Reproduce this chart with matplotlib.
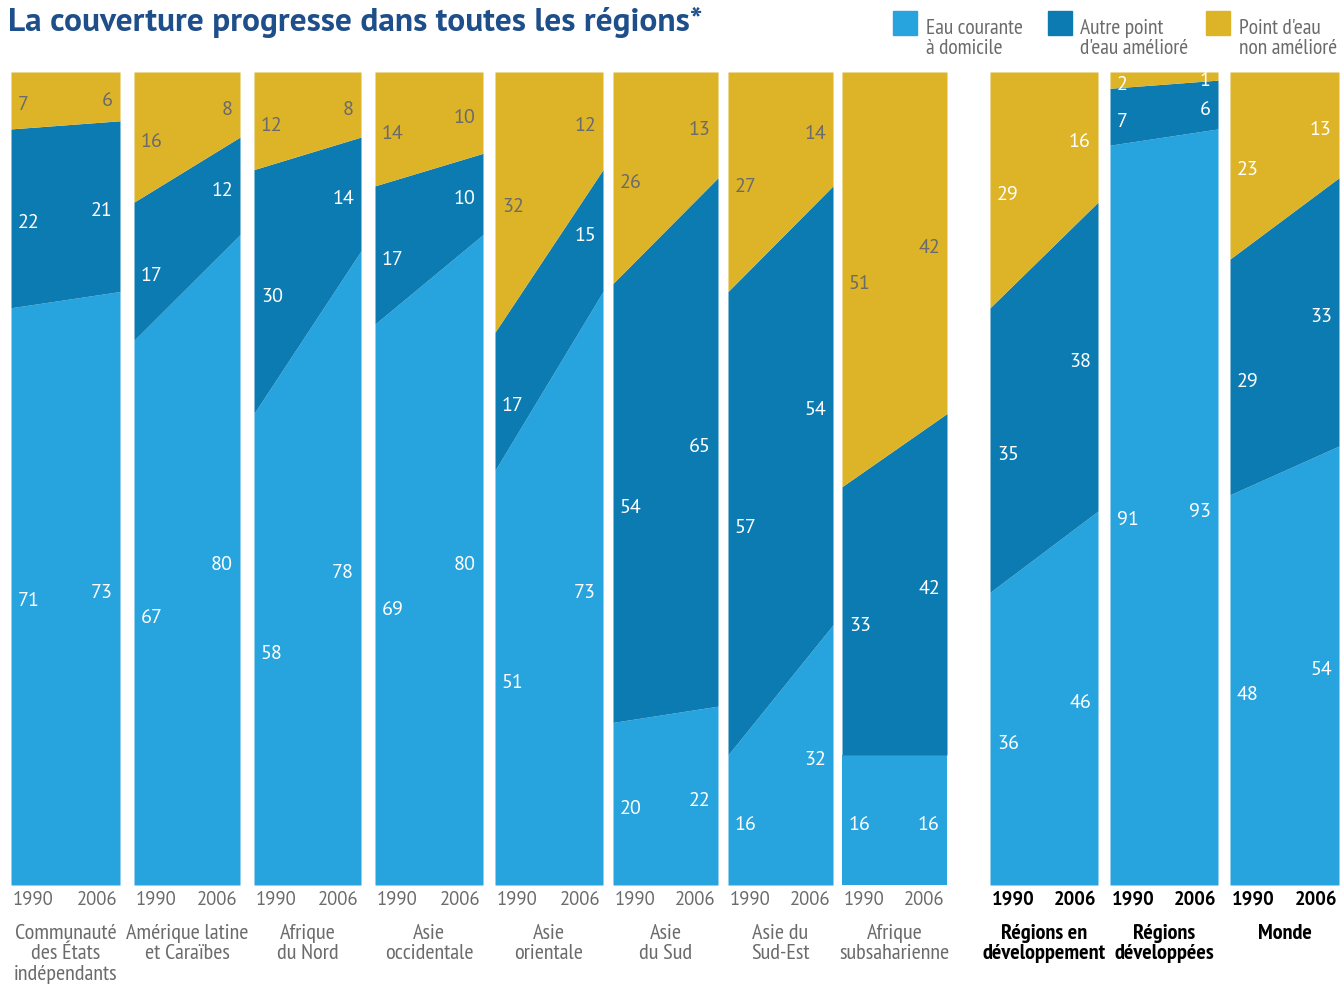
import matplotlib.pyplot as plt

# Donnees (%), 1990 et 2006 pour chaque region
regions = ["Communauté\ndes États\nindépendants", "Amérique latine\net Caraïbes",
           "Afrique\ndu Nord", "Asie\noccidentale", "Asie\norientale",
           "Asie\ndu Sud", "Asie du\nSud-Est", "Afrique\nsubsaharienne",
           "Régions en\ndéveloppement", "Régions\ndéveloppées", "Monde"]
courante_1990 = [71, 67, 58, 69, 51, 20, 16, 16, 36, 91, 48]
courante_2006 = [73, 80, 78, 80, 73, 22, 32, 16, 46, 93, 54]
autre_1990 = [22, 17, 30, 17, 17, 54, 57, 33, 35, 7, 29]
autre_2006 = [21, 12, 14, 10, 15, 65, 54, 42, 38, 6, 33]
nonamel_1990 = [7, 16, 12, 14, 32, 26, 27, 51, 29, 2, 23]
nonamel_2006 = [6, 8, 8, 10, 12, 13, 14, 42, 16, 1, 13]
annees = ["1990", "2006"]
legende = ["Eau courante\nà domicile", "Autre point\nd'eau amélioré", "Point d'eau\nnon amélioré"]

c_clair = "#27a3dd"
c_fonce = "#0b7bb2"
c_jaune = "#ddb327"
c_gris = "#6b6b6b"
c_titre = "#1f4f8a"

# polices (avec repli)
f_normal = ["PT Sans", "Liberation Sans", "DejaVu Sans"]
f_etroit = ["PT Sans Narrow", "Liberation Sans", "DejaVu Sans"]
plt.rcParams["font.family"] = f_normal

W, H = 1341, 987
fig = plt.figure(figsize=(W / 100, H / 100), dpi=100)

# positions des panneaux en pixels
gauches = [11, 134, 254, 375, 495, 613, 728, 842, 990, 1110, 1230]
droites = [120, 240, 361, 483, 603, 718, 833, 947, 1098, 1218, 1339]
haut, bas = 73, 886

for i in range(len(regions)):
    x0, x1 = gauches[i], droites[i]
    ax = fig.add_axes([x0 / W, 1 - bas / H, (x1 - x0) / W, (bas - haut) / H])
    a = [courante_1990[i], courante_2006[i]]
    b = [autre_1990[i], autre_2006[i]]
    c = [nonamel_1990[i], nonamel_2006[i]]
    x = [0, 1]
    ab = [a[0] + b[0], a[1] + b[1]]
    tot = [ab[0] + c[0], ab[1] + c[1]]
    ax.fill_between(x, 0, a, color=c_clair, lw=0)
    ax.fill_between(x, a, ab, color=c_fonce, lw=0)
    ax.fill_between(x, ab, tot, color=c_jaune, lw=0)
    ax.set_xlim(0, 1)
    ax.set_ylim(0, max(tot))
    ax.axis("off")

    grand = i >= 8
    coul_j = "white" if grand else c_gris
    pad = 7 / (x1 - x0)
    for j, (xx, ha) in enumerate([(pad, "left"), (1 - pad, "right")]):
        bandes = [(0, a[j], "white"), (a[j], ab[j], "white"), (ab[j], tot[j], coul_j)]
        for lo, hi, col in bandes:
            ax.annotate(str(hi - lo), (xx, (lo + hi) / 2), xytext=(0, -4),
                        textcoords="offset pixels", ha=ha, va="center",
                        fontsize=14.5, color=col)

    # annees et noms
    poids = "bold" if grand else "normal"
    ccol = "black" if grand else c_gris
    fig.text((x0 + 2) / W, 1 - 900 / H, annees[0], ha="left", va="center",
             fontsize=13.5, color=ccol, fontweight=poids)
    fig.text((x1 - 2) / W, 1 - 900 / H, annees[1], ha="right", va="center",
             fontsize=13.5, color=ccol, fontweight=poids)
    fig.text((x0 + x1) / 2 / W, 1 - 924 / H, regions[i], ha="center", va="top",
             fontsize=16, color=ccol, fontweight=poids, linespacing=1.1,
             family=f_etroit)

# titre
fig.text(8 / W, 1 - 23 / H, "La couverture progresse dans toutes les régions*",
         ha="left", va="center", fontsize=24, fontweight="bold", color=c_titre)

# legende
for xc, xt, col, txt in zip([893, 1048, 1206], [926, 1080, 1239],
                            [c_clair, c_fonce, c_jaune], legende):
    fig.patches.append(plt.Rectangle((xc / W, 1 - 36 / H), 24 / W, 24 / H,
                                     transform=fig.transFigure, color=col))
    fig.text(xt / W, 1 - 19 / H, txt, ha="left", va="top", fontsize=15.5,
             color=c_gris, linespacing=1.08, family=f_etroit)

plt.savefig("out.png", dpi=100)
